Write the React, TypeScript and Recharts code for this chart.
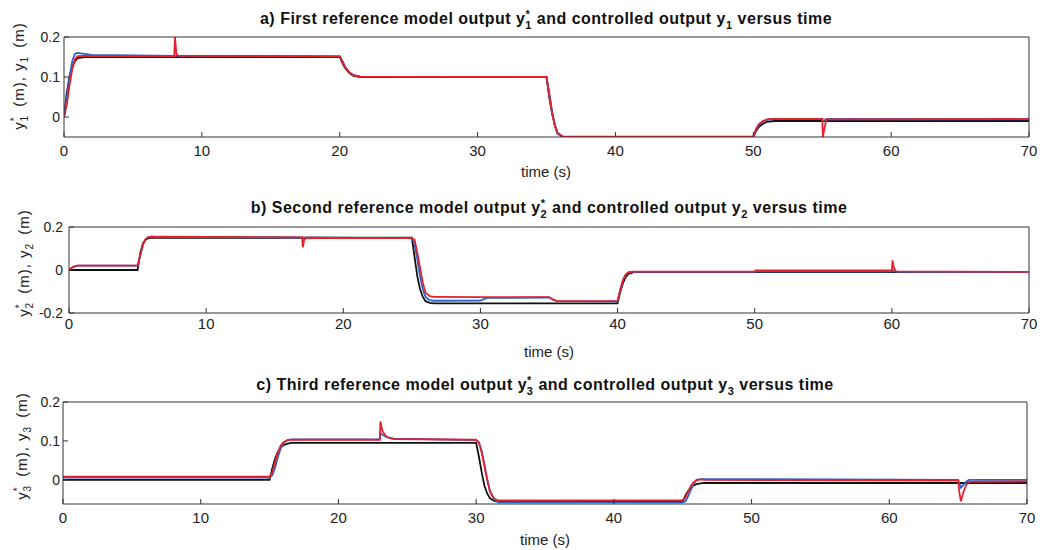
import { Line, LineChart, XAxis, YAxis } from "recharts"

// time grids (s) and outputs (m)
const timeA = [0, 0.2, 0.4, 0.6, 0.8, 1.0, 1.5, 2, 8, 8.05, 8.15, 8.3, 20, 20.2, 20.4, 20.7, 21, 21.5, 35, 35.2, 35.4, 35.6, 35.8, 36.2, 50, 50.2, 50.4, 50.7, 51, 51.5, 55, 55.05, 55.15, 55.3, 70]
const refA = [0, 0.06, 0.1, 0.125, 0.14, 0.147, 0.15, 0.15, 0.15, 0.15, 0.15, 0.15, 0.15, 0.135, 0.122, 0.11, 0.103, 0.1, 0.1, 0.05, 0.01, -0.02, -0.04, -0.05, -0.05, -0.035, -0.025, -0.017, -0.012, -0.01, -0.01, -0.01, -0.01, -0.01, -0.01]
const blueA = [0, 0.05, 0.1, 0.14, 0.158, 0.16, 0.158, 0.155, 0.153, 0.153, 0.153, 0.153, 0.152, 0.14, 0.125, 0.112, 0.105, 0.101, 0.1, 0.06, 0.015, -0.02, -0.042, -0.05, -0.05, -0.032, -0.02, -0.011, -0.007, -0.005, -0.005, -0.01, -0.008, -0.005, -0.006]
const redA = [0, 0.03, 0.08, 0.12, 0.145, 0.152, 0.153, 0.152, 0.152, 0.2, 0.158, 0.153, 0.151, 0.138, 0.124, 0.111, 0.104, 0.101, 0.1, 0.055, 0.012, -0.02, -0.04, -0.049, -0.049, -0.03, -0.018, -0.01, -0.006, -0.005, -0.005, -0.05, -0.03, -0.006, -0.005]

const timeB = [0, 0.3, 0.6, 5, 5.2, 5.4, 5.6, 5.8, 6.0, 6.5, 17, 17.05, 17.15, 17.3, 25, 25.2, 25.4, 25.6, 25.8, 26.0, 26.3, 26.6, 27, 30, 30.5, 35, 35.3, 35.6, 40, 40.2, 40.4, 40.6, 40.8, 41.2, 50, 50.05, 60, 60.05, 60.15, 60.3, 70]
const refB = [0, 0, 0, 0, 0.08, 0.125, 0.142, 0.148, 0.15, 0.15, 0.15, 0.15, 0.15, 0.15, 0.15, 0.06, -0.03, -0.09, -0.125, -0.145, -0.153, -0.155, -0.155, -0.155, -0.155, -0.155, -0.155, -0.155, -0.155, -0.1, -0.06, -0.032, -0.018, -0.01, -0.01, -0.01, -0.01, -0.01, -0.01, -0.01, -0.01]
const blueB = [0, 0.015, 0.02, 0.02, 0.07, 0.12, 0.145, 0.153, 0.155, 0.153, 0.151, 0.145, 0.15, 0.151, 0.148, 0.12, 0.05, -0.03, -0.09, -0.125, -0.14, -0.143, -0.143, -0.142, -0.13, -0.128, -0.138, -0.145, -0.146, -0.092, -0.047, -0.022, -0.011, -0.009, -0.009, -0.008, -0.008, 0, -0.005, -0.009, -0.01]
const redB = [0, 0.015, 0.02, 0.02, 0.07, 0.12, 0.145, 0.153, 0.155, 0.155, 0.152, 0.105, 0.14, 0.15, 0.148, 0.14, 0.08, 0.01, -0.06, -0.105, -0.122, -0.125, -0.125, -0.126, -0.126, -0.126, -0.138, -0.145, -0.145, -0.09, -0.045, -0.02, -0.01, -0.008, -0.008, -0.002, -0.002, 0.045, 0.01, -0.006, -0.009]

const timeC = [0, 15, 15.2, 15.4, 15.6, 15.8, 16.0, 16.3, 16.6, 23, 23.05, 23.2, 23.5, 24, 30, 30.2, 30.4, 30.6, 30.8, 31.0, 31.3, 31.6, 45, 45.2, 45.4, 45.6, 45.8, 46.0, 46.3, 46.6, 65, 65.1, 65.2, 65.4, 65.6, 65.8, 70]
const refC = [0, 0, 0.03, 0.055, 0.072, 0.083, 0.089, 0.093, 0.095, 0.095, 0.095, 0.095, 0.095, 0.095, 0.095, 0.06, 0.02, -0.015, -0.035, -0.047, -0.054, -0.056, -0.056, -0.04, -0.028, -0.019, -0.014, -0.011, -0.009, -0.008, -0.008, -0.008, -0.008, -0.008, -0.008, -0.008, -0.008]
const blueC = [0.006, 0.006, 0.012, 0.032, 0.058, 0.08, 0.094, 0.102, 0.104, 0.104, 0.12, 0.116, 0.11, 0.106, 0.102, 0.097, 0.075, 0.04, 0.003, -0.028, -0.05, -0.058, -0.058, -0.055, -0.042, -0.025, -0.01, 0, 0.002, 0.002, 0, -0.01, -0.02, -0.012, -0.004, 0, 0]
const redC = [0.008, 0.008, 0.02, 0.045, 0.07, 0.088, 0.097, 0.102, 0.103, 0.103, 0.15, 0.125, 0.11, 0.105, 0.103, 0.095, 0.07, 0.035, 0, -0.03, -0.048, -0.053, -0.052, -0.045, -0.03, -0.015, -0.006, -0.001, 0.001, 0, -0.002, -0.035, -0.055, -0.03, -0.012, -0.005, -0.004]

const xTicks = [0, 10, 20, 30, 40, 50, 60, 70]
const yTicksA = [0, 0.1, 0.2]
const yTicksB = [-0.2, 0, 0.2]
const yTicksC = [0, 0.1, 0.2]

const FONT = "'Liberation Sans', Arial, Helvetica, sans-serif"
const AXIS = "#333"
const TEXT = "#222"

function toRows(time: number[], ref: number[], blue: number[], red: number[]) {
  return time.map((t, i) => ({ t, ref: ref[i], blue: blue[i], red: red[i] }))
}

interface PanelProps {
  top: number
  plotTop: number
  plotBottom: number
  plotLeft: number
  plotRight: number
  rows: { t: number; ref: number; blue: number; red: number }[]
  yDomain: [number, number]
  yTicks: number[]
  xGap: number
  yGap: number
}

function Panel({ top, plotTop, plotBottom, plotLeft, plotRight, rows, yDomain, yTicks, xGap, yGap }: PanelProps) {
  const height = plotBottom - top + 40
  return (
    <div style={{ position: "absolute", left: 0, top, width: 1040, height }}>
      <LineChart
        width={1040}
        height={height}
        data={rows}
        margin={{ top: plotTop - top - 1, right: 1040 - plotRight - 1, bottom: 0, left: plotLeft - 50 }}
      >
        <XAxis
          xAxisId="bottom"
          dataKey="t"
          type="number"
          domain={[0, 70]}
          ticks={xTicks}
          allowDataOverflow
          height={40}
          tickSize={-5}
          tickMargin={xGap}
          stroke={AXIS}
          tick={{ fill: TEXT, fontSize: 15, fontFamily: FONT }}
        />
        <XAxis
          xAxisId="top"
          orientation="top"
          dataKey="t"
          type="number"
          domain={[0, 70]}
          ticks={xTicks}
          allowDataOverflow
          height={1}
          tickSize={-5}
          tick={false}
          stroke={AXIS}
        />
        <YAxis
          yAxisId="left"
          type="number"
          domain={yDomain}
          ticks={yTicks}
          allowDataOverflow
          width={50}
          tickSize={-5}
          tickMargin={yGap}
          stroke={AXIS}
          tick={{ fill: TEXT, fontSize: 14, fontFamily: FONT }}
          tickFormatter={(v) => String(v)}
        />
        <YAxis
          yAxisId="right"
          orientation="right"
          type="number"
          domain={yDomain}
          ticks={yTicks}
          allowDataOverflow
          width={1}
          tickSize={-5}
          tick={false}
          stroke={AXIS}
        />
        <Line xAxisId="bottom" yAxisId="left" type="linear" dataKey="ref" stroke="#111" strokeWidth={1.8} dot={false} isAnimationActive={false} />
        <Line xAxisId="bottom" yAxisId="left" type="linear" dataKey="blue" stroke="#2a62c8" strokeWidth={1.8} dot={false} isAnimationActive={false} />
        <Line xAxisId="bottom" yAxisId="left" type="linear" dataKey="red" stroke="#e3222c" strokeWidth={1.8} dot={false} isAnimationActive={false} />
      </LineChart>
    </div>
  )
}

function Title({ x, y, head, n }: { x: number; y: number; head: string; n: string }) {
  return (
    <text x={x} y={y} textAnchor="middle" fontWeight="bold" fontSize={16} letterSpacing={0.5} fill="#111" fontFamily={FONT}>
      {head} y
      <tspan fontSize={11} dy={-6}>*</tspan>
      <tspan fontSize={11} dx={-5} dy={11}>{n}</tspan>
      <tspan dy={-5}> and controlled output y</tspan>
      <tspan fontSize={11} dy={5}>{n}</tspan>
      <tspan dy={-5}>{"  versus time"}</tspan>
    </text>
  )
}

function YLabel({ x, y, n }: { x: number; y: number; n: string }) {
  return (
    <text transform={`translate(${x},${y}) rotate(-90)`} textAnchor="middle" fontSize={15} letterSpacing={1} fill={TEXT} fontFamily={FONT}>
      y
      <tspan fontSize={10} dy={-6}>*</tspan>
      <tspan fontSize={10} dx={-5} dy={10}>{n}</tspan>
      <tspan dy={-4} dx={3}> (m), y</tspan>
      <tspan fontSize={10} dy={4}>{n}</tspan>
      <tspan dy={-4} dx={3}> (m)</tspan>
    </text>
  )
}

export default function App() {
  return (
    <div style={{ position: "absolute", left: 0, top: 0, width: 1040, height: 550, background: "#fff", overflow: "hidden" }}>
      <Panel top={10} plotTop={37} plotBottom={137} plotLeft={64} plotRight={1029} rows={toRows(timeA, refA, blueA, redA)} yDomain={[-0.05, 0.2]} yTicks={yTicksA} xGap={13} yGap={9} />
      <Panel top={200} plotTop={227} plotBottom={313} plotLeft={69} plotRight={1029} rows={toRows(timeB, refB, blueB, redB)} yDomain={[-0.2, 0.2]} yTicks={yTicksB} xGap={10} yGap={11} />
      <Panel top={380} plotTop={402} plotBottom={504} plotLeft={63} plotRight={1027} rows={toRows(timeC, refC, blueC, redC)} yDomain={[-0.062, 0.2]} yTicks={yTicksC} xGap={13} yGap={8} />
      <svg width={1040} height={550} style={{ position: "absolute", left: 0, top: 0, pointerEvents: "none" }}>
        <Title x={546} y={24} head="a) First reference model output" n="1" />
        <Title x={549} y={213} head="b) Second reference model output" n="2" />
        <Title x={545} y={390} head="c) Third reference model output" n="3" />
        <YLabel x={24} y={76} n="1" />
        <YLabel x={29} y={263} n="2" />
        <YLabel x={27} y={446} n="3" />
        <text x={546} y={177} textAnchor="middle" fontSize={15} fill={TEXT} fontFamily={FONT}>time (s)</text>
        <text x={549} y={357} textAnchor="middle" fontSize={15} fill={TEXT} fontFamily={FONT}>time (s)</text>
        <text x={545} y={545} textAnchor="middle" fontSize={15} fill={TEXT} fontFamily={FONT}>time (s)</text>
      </svg>
    </div>
  )
}
